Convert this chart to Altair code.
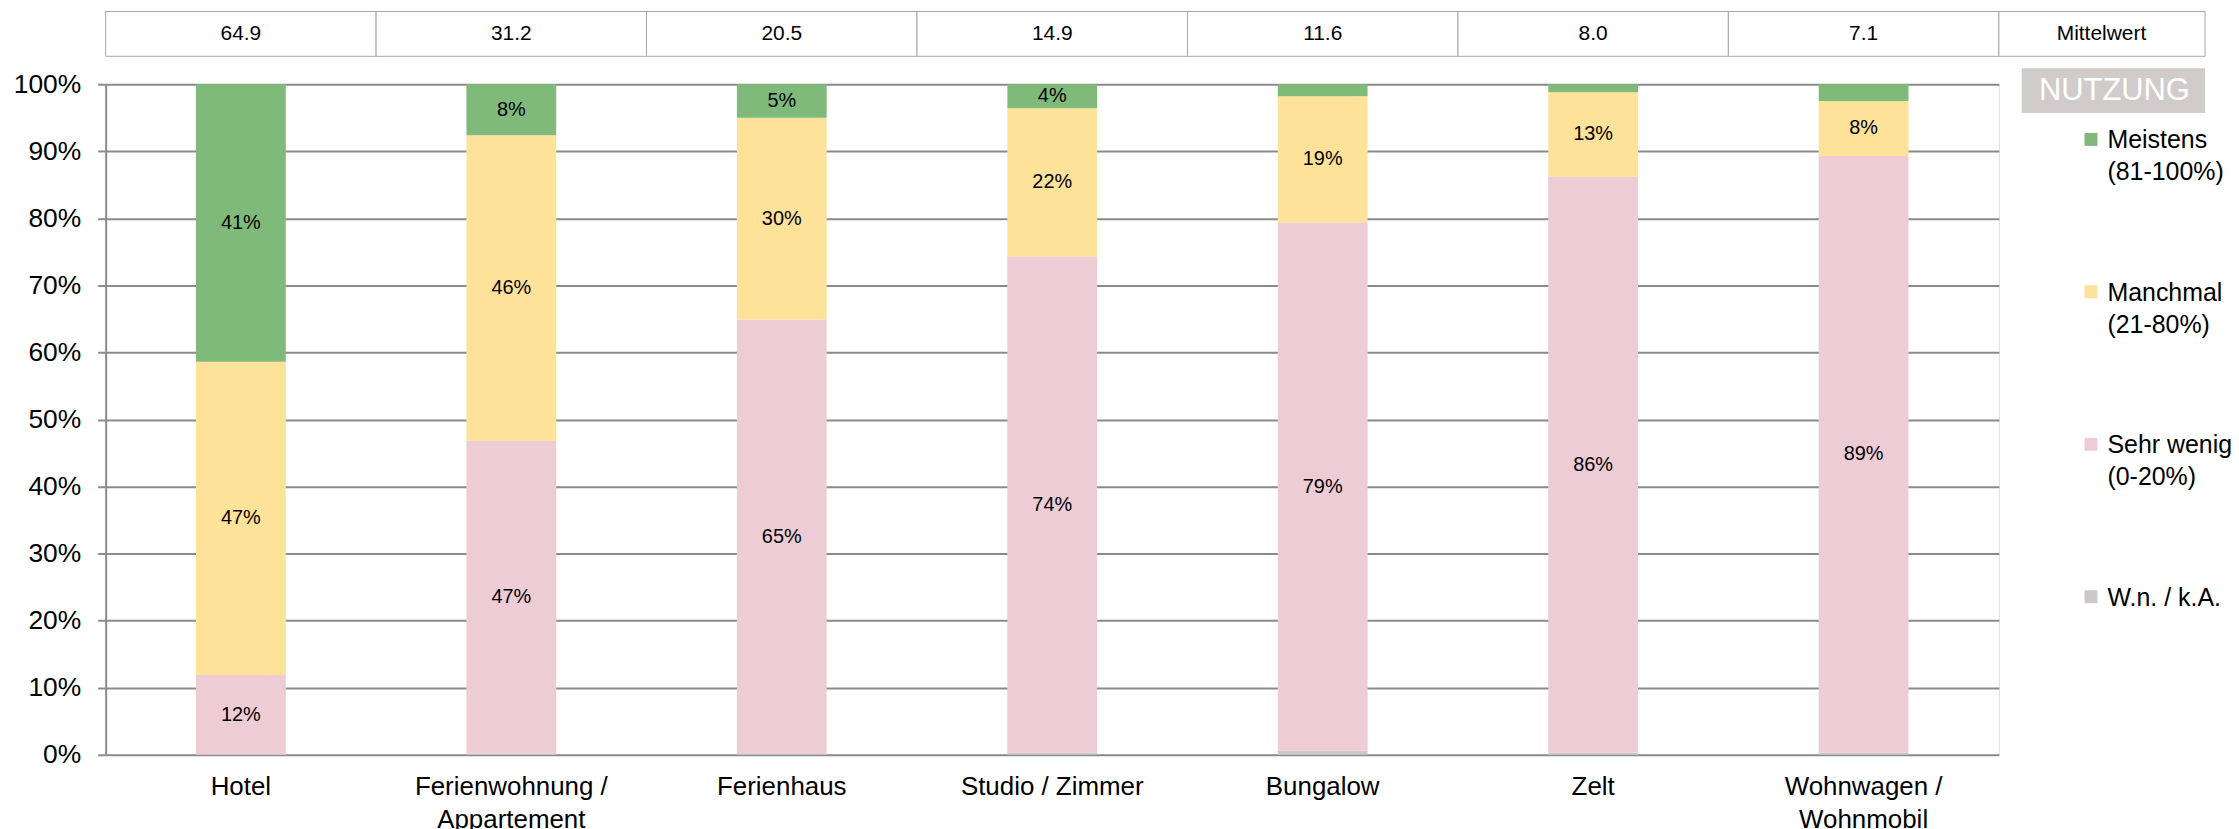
import altair as alt
import pandas as pd

# ---- data ----
categories = ["Hotel", "Ferienwohnung /|Appartement", "Ferienhaus", "Studio / Zimmer",
              "Bungalow", "Zelt", "Wohnwagen /|Wohnmobil"]
series = ["W.n. / k.A.", "Sehr wenig (0-20%)", "Manchmal (21-80%)", "Meistens (81-100%)"]
wn = [0.0, 0.2, 0.1, 0.3, 0.6, 0.3, 0.3]
sehr_wenig = [11.9, 46.6, 64.8, 74.0, 78.8, 85.9, 89.0]
manchmal = [46.7, 45.6, 30.1, 22.1, 18.8, 12.6, 8.2]
meistens = [41.4, 7.6, 5.0, 3.6, 1.8, 1.2, 2.5]
mittelwert = [64.9, 31.2, 20.5, 14.9, 11.6, 8.0, 7.1]
colors = ["#CCC8C8", "#EDCCD5", "#FEE29A", "#80BA7A"]
y_ticks = [0, 10, 20, 30, 40, 50, 60, 70, 80, 90, 100]

rows = []
for i, cat in enumerate(categories):
    for k, (s, vals) in enumerate(zip(series, [wn, sehr_wenig, manchmal, meistens])):
        rows.append({"cat": cat, "series": s, "order": k, "value": vals[i]})
df = pd.DataFrame(rows)
tab = pd.DataFrame({"cat": categories, "mw": mittelwert})

FONT = "Liberation Sans"
GRID = "#8a8a8a"

base = alt.Chart(df).transform_stack(
    stack="value", groupby=["cat"], as_=["y0", "y1"],
    sort=[alt.SortField("order", "ascending")]
)

xenc = alt.X("cat:N", sort=categories, title=None,
             scale=alt.Scale(paddingInner=0, paddingOuter=0),
             axis=alt.Axis(labelAngle=0, domain=False, ticks=False, tickSize=0, grid=False,
                           labelFontSize=26, labelFont=FONT, labelColor="#000000",
                           labelExpr="split(datum.value, '|')", labelLineHeight=33,
                           labelBaseline="top", labelPadding=19, labelLimit=400))

bars = base.mark_bar(width=alt.RelativeBandSize(0.332)).encode(
    x=xenc,
    y=alt.Y("y0:Q", title=None, scale=alt.Scale(domain=[0, 100], nice=False),
            axis=alt.Axis(values=y_ticks, labelExpr="datum.value + '%'",
                          labelFontSize=26.5, labelFont=FONT, labelColor="#000000",
                          tickSize=8, tickColor=GRID, tickWidth=2,
                          domainColor=GRID, domainWidth=2,
                          grid=True, gridColor=GRID, gridWidth=2, labelPadding=17)),
    y2="y1:Q",
    color=alt.Color("series:N",
                    scale=alt.Scale(domain=series[::-1], range=colors[::-1]),
                    legend=alt.Legend(orient="none", legendX=1980, legendY=52, title=None,
                                      symbolType="M-1,-2.4H1V-0.4H-1Z", symbolSize=169,
                                      symbolStrokeWidth=0, labelFontSize=25, labelFont=FONT,
                                      labelColor="#000000", labelBaseline="alphabetic",
                                      labelExpr="split(replace(datum.label, ' (', '|('), '|')",
                                      rowPadding=95, labelOffset=4,
                                      padding=0, labelLimit=400)),
)

labels = base.transform_filter("datum.value >= 3 && datum.order > 0").transform_calculate(
    mid="(datum.y0 + datum.y1) / 2",
    lab="format(datum.value, '.0f') + '%'"
).mark_text(fontSize=20, font=FONT, color="#000000", baseline="middle").encode(
    x=alt.X("cat:N", sort=categories), y="mid:Q", text="lab:N"
)

cells = alt.Chart(tab).mark_rect(fill="white", stroke="#a6a6a6", strokeWidth=1).encode(
    x=alt.X("cat:N", sort=categories), y=alt.value(-73), y2=alt.value(-28)
)
cell_text = alt.Chart(tab).mark_text(fontSize=21, font=FONT, color="#000000", baseline="middle").encode(
    x=alt.X("cat:N", sort=categories), y=alt.value(-50.5), text=alt.Text("mw:Q", format=".1f")
)

mw_df = pd.DataFrame({"t": ["Mittelwert"]})
mw_cell = alt.Chart(mw_df).mark_rect(fill="white", stroke="#a6a6a6", strokeWidth=1).encode(
    x=alt.value(1900), x2=alt.value(2107), y=alt.value(-73), y2=alt.value(-28)
)
mw_text = alt.Chart(mw_df).mark_text(fontSize=21, font=FONT, color="#000000", baseline="middle").encode(
    x=alt.value(2003), y=alt.value(-50.5), text="t:N"
)

nz_df = pd.DataFrame({"t": ["NUTZUNG"]})
nz_box = alt.Chart(nz_df).mark_rect(fill="#D0CCCC").encode(
    x=alt.value(1923), x2=alt.value(2107), y=alt.value(-16), y2=alt.value(29)
)
nz_text = alt.Chart(nz_df).mark_text(fontSize=31, font=FONT, color="#ffffff", baseline="middle").encode(
    x=alt.value(2016), y=alt.value(7), text="t:N"
)

chart = alt.layer(bars, labels, cells, cell_text, mw_cell, mw_text, nz_box, nz_text).properties(
    width=1900, height=673,
    autosize=alt.AutoSizeParams(type="none"),
    padding={"left": 98, "top": 75, "right": 233, "bottom": 73},
).configure_view(stroke=None).configure(
    font=FONT, style={"guide-label": {"lineHeight": 32}}
)

chart.save("out.html", embed_options={"renderer": "svg", "actions": False})
